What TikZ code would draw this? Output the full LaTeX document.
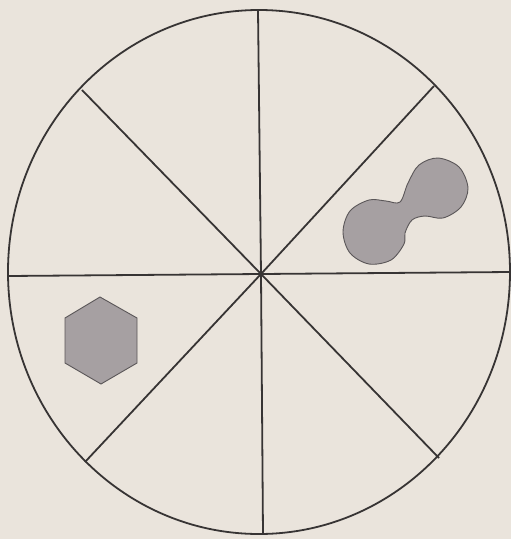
\documentclass[tikz,border=0pt]{standalone}
\begin{document}
\begin{tikzpicture}[x=1pt,y=-1pt,
  ink/.style={draw={rgb,255:red,55;green,52;blue,52}, line width=1.8pt},
  shade/.style={draw={rgb,255:red,90;green,86;blue,88}, line width=0.9pt, fill={rgb,255:red,166;green,160;blue,162}}]
\definecolor{paper}{RGB}{234,228,220}
\fill[paper] (0,0) rectangle (511,539);
\useasboundingbox (0,0) rectangle (511,539);
\coordinate (c) at (261,274);
\coordinate (n) at (258,10);
\coordinate (s) at (263,534);
\coordinate (w) at (8,276);
\coordinate (e) at (510,272);
\coordinate (nw) at (82,90);
\coordinate (ne) at (434,86);
\coordinate (sw) at (85,462);
\coordinate (se) at (439,458);
\draw[ink] (259,272) ellipse [x radius=251pt, y radius=262pt];
\draw[ink] (n) -- (c) -- (s);
\draw[ink] (w) -- (c) -- (e);
\draw[ink] (nw) -- (c) -- (se);
\draw[ink] (ne) -- (c) -- (sw);
% hexagon
\draw[shade] (100,297) -- (137,318) -- (137,363) -- (101,384) -- (65,363) -- (65,318) -- cycle;
% dumbbell blob
\draw[shade] plot[smooth cycle, tension=0.55] coordinates {
 (408,183) (419,165) (438,158) (459,167) (468,188) (461,207) (443,218) (425,216)
 (412,220) (405,233) (404,244) (391,260) (369,264) (350,253) (343,232) (350,211)
 (369,200) (386,201) (400,202)};
\end{tikzpicture}
\end{document}
